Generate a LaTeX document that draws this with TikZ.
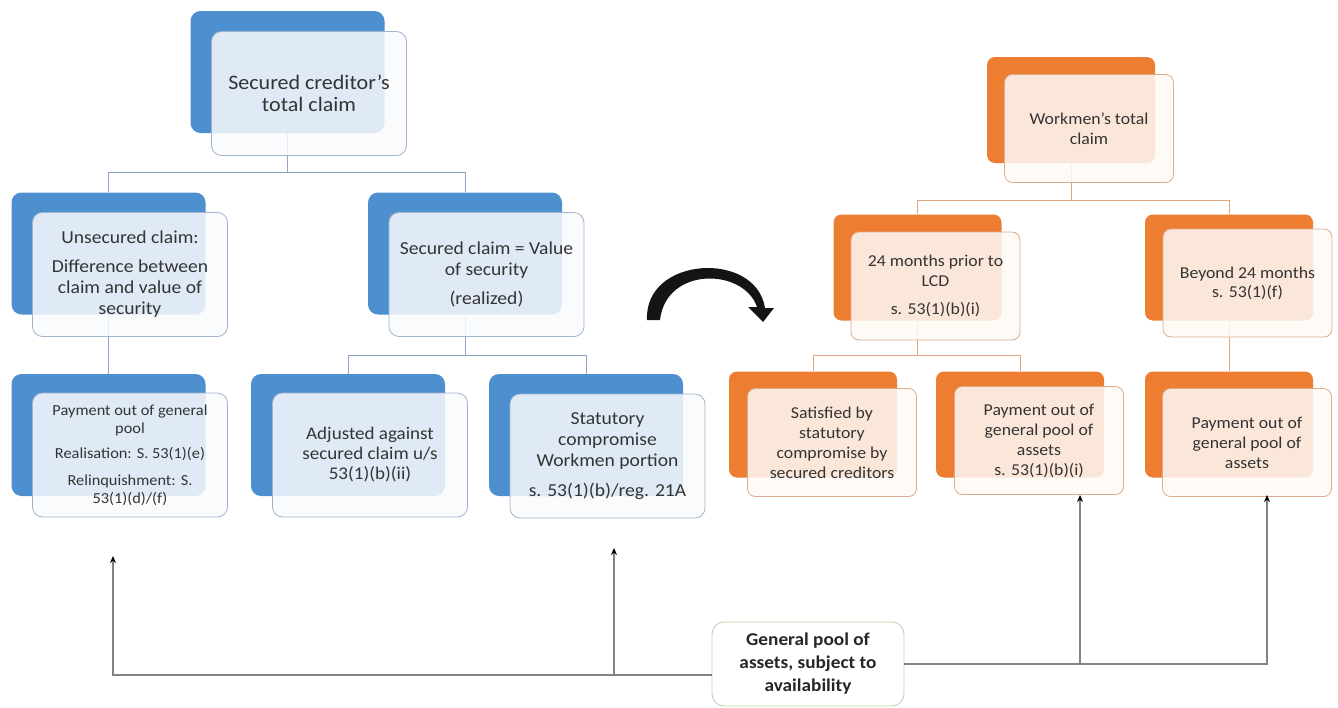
\documentclass[tikz,border=0pt]{standalone}
\usepackage{fontspec}
\setmainfont{Carlito}[FakeStretch=1.07]
\usetikzlibrary{arrows.meta}
\definecolor{cBlue}{RGB}{78,143,208}
\definecolor{cBfront}{RGB}{248,250,253}
\definecolor{cBborder}{RGB}{160,180,205}
\definecolor{cOrange}{RGB}{237,125,49}
\definecolor{cOfront}{RGB}{254,249,245}
\definecolor{cOborder}{RGB}{220,172,142}
\definecolor{cLconn}{RGB}{140,165,200}
\definecolor{cOconn}{RGB}{225,165,125}
\definecolor{cGborder}{RGB}{185,210,172}
\definecolor{cText}{RGB}{52,52,52}
\definecolor{cGconn}{RGB}{130,130,130}
\newcommand\fsz[2]{\fontsize{#1}{#2}\selectfont}
\begin{document}
\begin{tikzpicture}[x=1pt,y=-1pt,
  bback/.style={rectangle, rounded corners=10pt, fill=cBlue, draw=none,
    minimum width=194pt, minimum height=122pt, inner sep=0pt},
  bfront/.style={rectangle, rounded corners=10pt, fill=cBfront, fill opacity=0.86,
    text opacity=1, draw=cBborder, line width=0.8pt, minimum width=195pt,
    minimum height=124pt, inner sep=0pt, align=center, text=cText, font=\fsz{18.3}{21}},
  oback/.style={rectangle, rounded corners=8pt, fill=cOrange, draw=none,
    minimum width=168pt, minimum height=106pt, inner sep=0pt},
  ofront/.style={rectangle, rounded corners=8pt, fill=cOfront, fill opacity=0.86,
    text opacity=1, draw=cOborder, line width=0.8pt, minimum width=169pt,
    minimum height=108pt, inner sep=0pt, align=center, text=cText, font=\fsz{16.6}{20}},
  lconn/.style={draw=cLconn, line width=0.8pt},
  oconn/.style={draw=cOconn, line width=0.8pt},
  gconn/.style={draw=cGconn, line width=1.2pt, -{Stealth[length=7pt,width=6pt,black]}},
  gbox/.style={rectangle, rounded corners=12pt, draw=cGborder, line width=0.8pt, fill=white,
    minimum width=192pt, minimum height=84pt, align=center, text=black!85,
    font=\bfseries\fsz{18}{23}}
]
\useasboundingbox (0,0) rectangle (1338,707);

% ---------- coordinates for junctions ----------
\coordinate (tj) at (287.5,172);
\coordinate (m2j) at (465,355);
\coordinate (wj) at (1071,200);
\coordinate (r1j) at (917.5,355);

% ---------- back boxes (left) ----------
\node[bback] (tb) at (287.5,72) {};
\node[bback] (m1b) at (108.5,253.5) {};
\node[bback] (m2b) at (465,253.5) {};
\node[bback] (Ab) at (108.5,435) {};
\node[bback] (Bb) at (348,435) {};
\node[bback] (Cb) at (586,435) {};

% ---------- back boxes (right) ----------
\node[oback] (wb) at (1071,110) {};
\node[oback] (r1b) at (917.5,267.5) {};
\node[oback] (r2b) at (1229,267.5) {};
\node[oback] (s1b) at (813,424.5) {};
\node[oback] (s2b) at (1020,424.5) {};
\node[oback] (s3b) at (1229,424.5) {};

% ---------- connectors (drawn under front boxes) ----------
\draw[lconn] (tb.south) -- (tj);
\draw[lconn] (tj) -| (m1b.north);
\draw[lconn] (tj) -| (m2b.north);
\draw[lconn] (m1b.south) -- (Ab.north);
\draw[lconn] (m2b.south) -- (m2j);
\draw[lconn] (m2j) -| (Bb.north);
\draw[lconn] (m2j) -| (Cb.north);

\draw[oconn] (wb.south) -- (wj);
\draw[oconn] (wj) -| (r1b.north);
\draw[oconn] (wj) -| (r2b.north);
\draw[oconn] (r1b.south) -- (r1j);
\draw[oconn] (r1j) -| (s1b.north);
\draw[oconn] (r1j) -| (s2b.north);
\draw[oconn] (r2b.south) -- (s3b.north);

% ---------- front boxes (left) ----------
\node[bfront, font=\fsz{20.6}{22}] (tf) at (309,93.5) {Secured creditor’s\\total claim};
\node[bfront] (m1f) at (130,274.5) {Unsecured claim:\\[8pt]Difference between\\claim and value of\\security};
\node[bfront] (m2f) at (486.5,274.5) {Secured claim = Value\\of security\\[8pt](realized)};
\node[bfront, font=\fsz{15.3}{18}] (Af) at (130,455) {Payment out of general\\pool\\[7pt]Realisation: S. 53(1)(e)\\[9pt]Relinquishment: S.\\53(1)(d)/(f)};
\node[bfront, font=\fsz{17.8}{20}] (Bf) at (370,455) {Adjusted against\\secured claim u/s\\53(1)(b)(ii)};
\node[bfront] (Cf) at (607.5,456) {Statutory\\compromise\\Workmen portion\\[9pt]s. 53(1)(b)/reg. 21A};

% ---------- front boxes (right) ----------
\node[ofront] (wf) at (1089,128.5) {Workmen’s total\\claim};
\node[ofront] (r1f) at (935.5,286) {24 months prior to\\LCD\\[8pt]s. 53(1)(b)(i)};
\node[ofront, font=\fsz{16.6}{19}] (r2f) at (1247.5,283) {Beyond 24 months\\s. 53(1)(f)};
\node[ofront] (s1f) at (832,442.5) {Satisfied by\\statutory\\compromise by\\secured creditors};
\node[ofront] (s2f) at (1039,440.5) {Payment out of\\general pool of\\assets\\s. 53(1)(b)(i)};
\node[ofront] (s3f) at (1247,442.5) {Payment out of\\general pool of\\assets};

% ---------- curved arrow ----------
\fill[black!92] (647,320) .. controls (644,256) and (756,250) .. (765,308)
  -- (774,308) -- (763,322) -- (748,307) -- (757,307)
  .. controls (744,268) and (666,266) .. (660,320) -- cycle;

% ---------- general pool ----------
\node[gbox] (gp) at (808,664) {General pool of\\assets, subject to\\availability};
\coordinate (tipA) at (113,556);
\coordinate (jC) at (614,675);
\coordinate (tipC) at (614,548);
\coordinate (jP2) at (1080,664);
\coordinate (tipP2) at (1080,495);
\coordinate (tipP3) at (1267,495);
\draw[gconn] ([yshift=-11pt]gp.west) -| (tipA);
\draw[gconn] (jC) -- (tipC);
\draw[gconn] (gp.east) -| (tipP2);
\draw[gconn] (jP2) -| (tipP3);
\end{tikzpicture}
\end{document}
